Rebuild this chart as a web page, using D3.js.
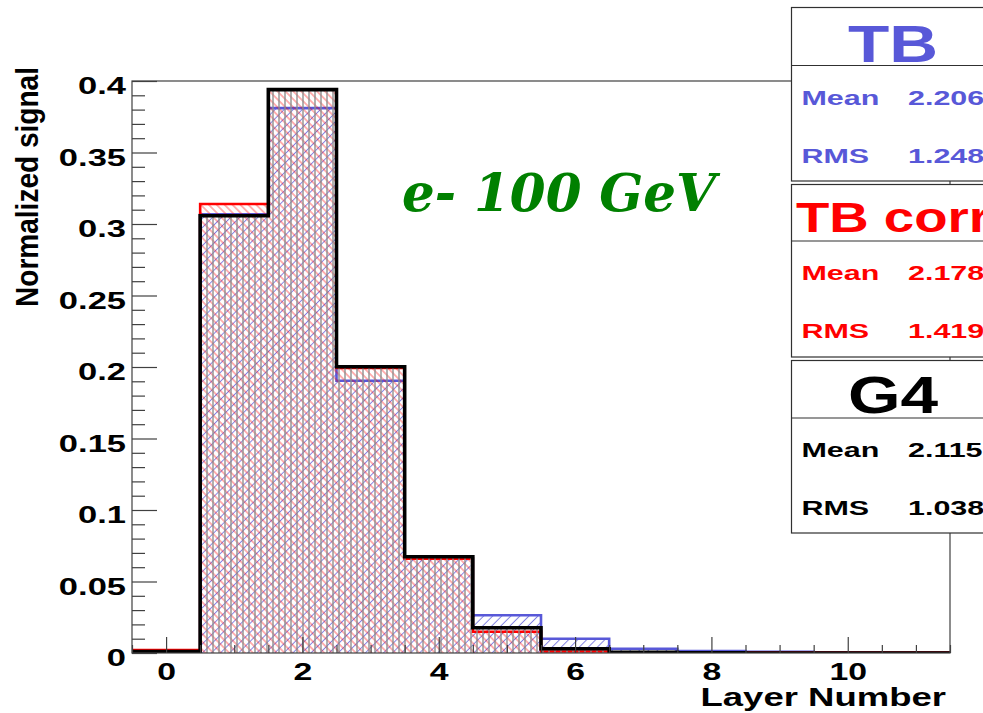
<!DOCTYPE html>
<html>
<head>
<meta charset="utf-8">
<script src="https://cdn.jsdelivr.net/npm/d3@7"></script>
<style>
  html, body { margin: 0; padding: 0; background: #fff; }
  svg { display: block; }
  text { font-family: "Liberation Sans", Arial, sans-serif; font-weight: bold; }
</style>
</head>
<body>
<svg id="chart" width="983" height="713"></svg>
<script>
// Layer-by-layer longitudinal profile, 100 GeV electrons
const layerNumbers = [0, 1, 2, 3, 4, 5, 6, 7, 8, 9, 10, 11];
const tbSignal     = [0.0015, 0.3068, 0.381, 0.1904, 0.066, 0.0264, 0.0100, 0.0030, 0.0014, 0.0009, 0.0003, 0.0002];
const tbCorrSignal = [0.0020, 0.3140, 0.394, 0.1993, 0.066, 0.0149, 0.0010, 0.0005, 0.0005, 0.0004, 0.0004, 0.0004];
const g4Signal     = [0.0010, 0.3058, 0.394, 0.2002, 0.0673, 0.0177, 0.0030, 0.0005, 0.0001, 0.0000, 0.0000, 0.0000];

const yTickValues = [0, 0.05, 0.1, 0.15, 0.2, 0.25, 0.3, 0.35, 0.4];
const yTickLabels = ["0", "0.05", "0.1", "0.15", "0.2", "0.25", "0.3", "0.35", "0.4"];
const xTickValues = [0, 2, 4, 6, 8, 10];
const xTickLabels = ["0", "2", "4", "6", "8", "10"];

const statTitles = ["TB", "TB corr", "G4"];
const statMeans  = ["2.206", "2.178", "2.115"];
const statRms    = ["1.248", "1.419", "1.038"];

const xTitle = "Layer Number";
const yTitle = "Normalized signal";
const plotLabel = "e- 100 GeV";

const blue = "#5858d8", red = "#ff0000", black = "#000000", green = "#008000";

const svg = d3.select("#chart");

const x = d3.scaleLinear().domain([-0.5, 11.5]).range([132, 950]);
const y = d3.scaleLinear().domain([0, 0.4]).range([653, 81]);

// Stretch bold labels horizontally, the way this plotting style renders them
function widen(sel, factor) {
  sel.each(function () {
    const n = this.getComputedTextLength();
    d3.select(this).attr("textLength", n * factor).attr("lengthAdjust", "spacingAndGlyphs");
  });
}

// Hatch patterns
const defs = svg.append("defs");
function hatch(id, spacing, angle, color, width, opacity) {
  const p = defs.append("pattern")
    .attr("id", id)
    .attr("patternUnits", "userSpaceOnUse")
    .attr("width", spacing).attr("height", 20)
    .attr("patternTransform", `rotate(${angle})`);
  p.append("line")
    .attr("x1", spacing / 2).attr("x2", spacing / 2)
    .attr("y1", 0).attr("y2", 20)
    .attr("stroke", color).attr("stroke-width", width).attr("stroke-opacity", opacity);
}
hatch("hatchTB", 6.4, 45, blue, 1, 0.75);
hatch("hatchCorr", 5.6, -45, red, 1, 0.6);
hatch("hatchG4", 6, 0, "#8c8c8c", 1.6, 0.85);

defs.append("clipPath").attr("id", "frameClip")
  .append("rect").attr("x", 132).attr("y", 81).attr("width", 818).attr("height", 572);

// Frame background
svg.append("rect").attr("x", 132).attr("y", 81).attr("width", 818).attr("height", 572).attr("fill", "#fff");

function stepPoints(values) {
  const pts = layerNumbers.map((l, i) => [l - 0.5, values[i]]);
  pts.push([layerNumbers[layerNumbers.length - 1] + 0.5, values[values.length - 1]]);
  return pts;
}
const area = d3.area().curve(d3.curveStepAfter).x(d => x(d[0])).y0(y(0)).y1(d => y(d[1]));
const line = d3.line().curve(d3.curveStepAfter).x(d => x(d[0])).y(d => y(d[1]));

const hist = svg.append("g").attr("clip-path", "url(#frameClip)");
const series = [
  { values: tbSignal, fill: "url(#hatchTB)", stroke: blue, width: 2.6 },
  { values: tbCorrSignal, fill: "url(#hatchCorr)", stroke: red, width: 2.6 },
  { values: g4Signal, fill: "url(#hatchG4)", stroke: black, width: 3.6 }
];
series.forEach(s => {
  const pts = stepPoints(s.values);
  hist.append("path").attr("d", area(pts)).attr("fill", s.fill);
  hist.append("path").attr("d", line(pts)).attr("fill", "none")
    .attr("stroke", s.stroke).attr("stroke-width", s.width).attr("stroke-linejoin", "miter");
});

// Frame
svg.append("rect").attr("x", 132).attr("y", 81).attr("width", 818).attr("height", 572)
  .attr("fill", "none").attr("stroke", "#404040").attr("stroke-width", 1.2);

const tickColor = "#404040";

// Y axis: major ticks with labels, minor ticks every 0.01
const yMinor = d3.range(0, 0.4001, 0.01).filter(v => Math.abs(v / 0.05 - Math.round(v / 0.05)) > 1e-6);
const yAxisMinor = svg.append("g").attr("transform", "translate(132,0)")
  .call(d3.axisLeft(y).tickValues(yMinor).tickSizeInner(-13).tickSizeOuter(0).tickFormat(""));
const yAxis = svg.append("g").attr("transform", "translate(132,0)")
  .call(d3.axisLeft(y).tickValues(yTickValues).tickSizeInner(-25).tickSizeOuter(0).tickPadding(6)
    .tickFormat((d, i) => yTickLabels[i]));
[yAxisMinor, yAxis].forEach(g => {
  g.select(".domain").remove();
  g.selectAll("line").attr("stroke", tickColor).attr("stroke-width", 1.2);
});
yAxis.selectAll("text")
  .attr("dy", "0.56em")
  .attr("fill", black)
  .style("font-size", "23px")
  .style("font-family", "'Liberation Sans', Arial, sans-serif")
  .style("font-weight", "bold");
widen(yAxis.selectAll("text"), 1.5);

// X axis: major ticks every 2, minor every 0.5
const xMinor = d3.range(-0.5, 11.51, 0.5).filter(v => Math.abs(v / 2 - Math.round(v / 2)) > 1e-6);
const xAxisMinor = svg.append("g").attr("transform", "translate(0,653)")
  .call(d3.axisBottom(x).tickValues(xMinor).tickSizeInner(-8).tickSizeOuter(0).tickFormat(""));
const xAxis = svg.append("g").attr("transform", "translate(0,653)")
  .call(d3.axisBottom(x).tickValues(xTickValues).tickSizeInner(-16).tickSizeOuter(0)
    .tickFormat((d, i) => xTickLabels[i]));
[xAxisMinor, xAxis].forEach(g => {
  g.select(".domain").remove();
  g.selectAll("line").attr("stroke", tickColor).attr("stroke-width", 1.2);
});
xAxis.selectAll("text")
  .attr("y", 27).attr("dy", 0)
  .attr("fill", black)
  .style("font-size", "23px")
  .style("font-family", "'Liberation Sans', Arial, sans-serif")
  .style("font-weight", "bold");
widen(xAxis.selectAll("text"), 1.47);

// Axis titles
const xt = svg.append("text").attr("x", 946).attr("y", 706).attr("text-anchor", "end")
  .style("font-size", "25px").text(xTitle);
widen(xt, 1.46);

svg.append("text")
  .attr("transform", "translate(38,187) rotate(-90)")
  .attr("text-anchor", "middle")
  .style("font-family", "'Liberation Sans Narrow', 'Liberation Sans', Arial, sans-serif")
  .style("font-size", "31px")
  .attr("textLength", 240).attr("lengthAdjust", "spacingAndGlyphs")
  .text(yTitle);

// Plot label
svg.append("text")
  .attr("x", 402).attr("y", 211)
  .attr("fill", green)
  .style("font-family", "'DejaVu Serif', 'Liberation Serif', serif")
  .style("font-style", "italic")
  .style("font-size", "52px")
  .attr("textLength", 314).attr("lengthAdjust", "spacingAndGlyphs")
  .text(plotLabel);

// Statistics boxes
const boxes = [
  { top: 7.5, sep: 65.5, bottom: 181, color: blue, titleSize: 52, titleBase: 62 },
  { top: 184.5, sep: 241, bottom: 357, color: red, titleSize: 42, titleBase: 232 },
  { top: 360.5, sep: 418, bottom: 533, color: black, titleSize: 52, titleBase: 413 }
];
boxes.forEach((b, i) => {
  const g = svg.append("g");
  g.append("rect").attr("x", 791.5).attr("y", b.top).attr("width", 220).attr("height", b.bottom - b.top)
    .attr("fill", "#fff").attr("stroke", "#303030").attr("stroke-width", 1.2);
  g.append("line").attr("x1", 791.5).attr("x2", 1011).attr("y1", b.sep).attr("y2", b.sep)
    .attr("stroke", "#303030").attr("stroke-width", 1.2);
  const t = g.append("text").attr("x", 893).attr("y", b.titleBase).attr("text-anchor", "middle")
    .attr("fill", b.color).style("font-size", b.titleSize + "px").text(statTitles[i]);
  widen(t, 1.3);
  const rows = [["Mean", statMeans[i], b.sep + 39], ["RMS", statRms[i], b.sep + 97]];
  rows.forEach(r => {
    const a = g.append("text").attr("x", 801.5).attr("y", r[2]).attr("fill", b.color)
      .style("font-size", "21px").text(r[0]);
    const v = g.append("text").attr("x", 908).attr("y", r[2]).attr("fill", b.color)
      .style("font-size", "21px").text(r[1]);
    widen(a, 1.45);
    widen(v, 1.45);
  });
});
</script>
</body>
</html>
